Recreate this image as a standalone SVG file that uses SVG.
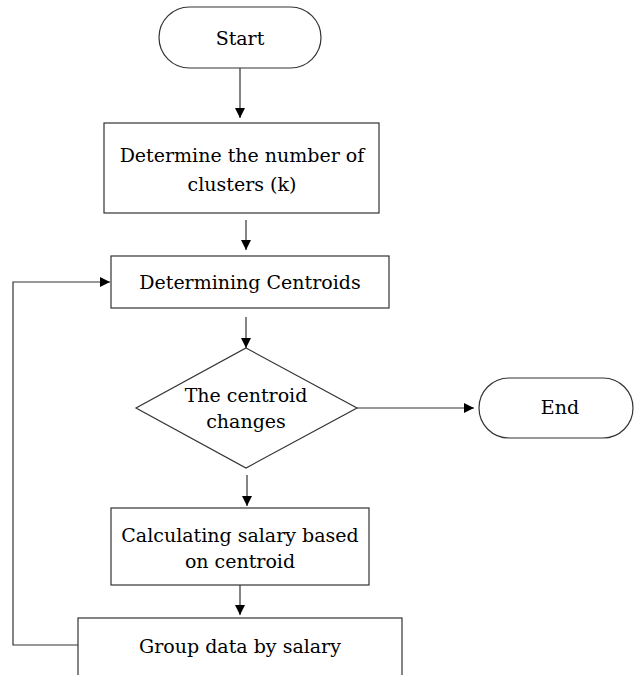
<svg xmlns="http://www.w3.org/2000/svg" width="634" height="675" viewBox="0 0 634 675">
<defs>
<style>
.shape{fill:#fff;stroke:#333;stroke-width:1.2}
.conn{fill:none;stroke:#333;stroke-width:1.2}
text{font-family:"DejaVu Serif","Liberation Serif",serif;font-size:19px;fill:#000;text-anchor:middle}
</style>
<marker id="arr" viewBox="0 0 10 10" refX="10" refY="5" markerWidth="10" markerHeight="10" markerUnits="userSpaceOnUse" orient="auto">
<path d="M0,0 L10,5 L0,10 z" fill="#000"/>
</marker>
</defs>
<rect width="634" height="675" fill="#fff"/>
<g id="connectors">
<line class="conn" x1="240" y1="68" x2="240" y2="118" marker-end="url(#arr)"/>
<line class="conn" x1="246" y1="220" x2="246" y2="250" marker-end="url(#arr)"/>
<line class="conn" x1="246" y1="317" x2="246" y2="348" marker-end="url(#arr)"/>
<line class="conn" x1="357" y1="408" x2="474" y2="408" marker-end="url(#arr)"/>
<line class="conn" x1="247" y1="475" x2="247" y2="506" marker-end="url(#arr)"/>
<line class="conn" x1="240" y1="585" x2="240" y2="615" marker-end="url(#arr)"/>
<polyline class="conn" points="78,645 13,645 13,282 110,282" marker-end="url(#arr)"/>
</g>
<g id="start">
<rect class="shape" x="159" y="7" width="162" height="61" rx="30.5" ry="30.5"/>
<text x="240" y="45">Start</text>
</g>
<g id="determine-k">
<rect class="shape" x="104" y="123" width="275" height="90"/>
<text x="242" y="162">Determine the number of</text>
<text x="242" y="191">clusters (k)</text>
</g>
<g id="determining-centroids">
<rect class="shape" x="111" y="256" width="278" height="52"/>
<text x="250" y="289">Determining Centroids</text>
</g>
<g id="centroid-changes">
<polygon class="shape" points="246,348 357,408 246,468 136,408"/>
<text x="246" y="402">The centroid</text>
<text x="246" y="428">changes</text>
</g>
<g id="end">
<rect class="shape" x="479" y="378" width="154" height="60" rx="30" ry="30"/>
<text x="560" y="414">End</text>
</g>
<g id="calculating">
<rect class="shape" x="111" y="508" width="258" height="77"/>
<text x="240" y="542">Calculating salary based</text>
<text x="240" y="568">on centroid</text>
</g>
<g id="group-data">
<rect class="shape" x="78" y="618" width="324" height="80"/>
<text x="240" y="653">Group data by salary</text>
</g>
</svg>
